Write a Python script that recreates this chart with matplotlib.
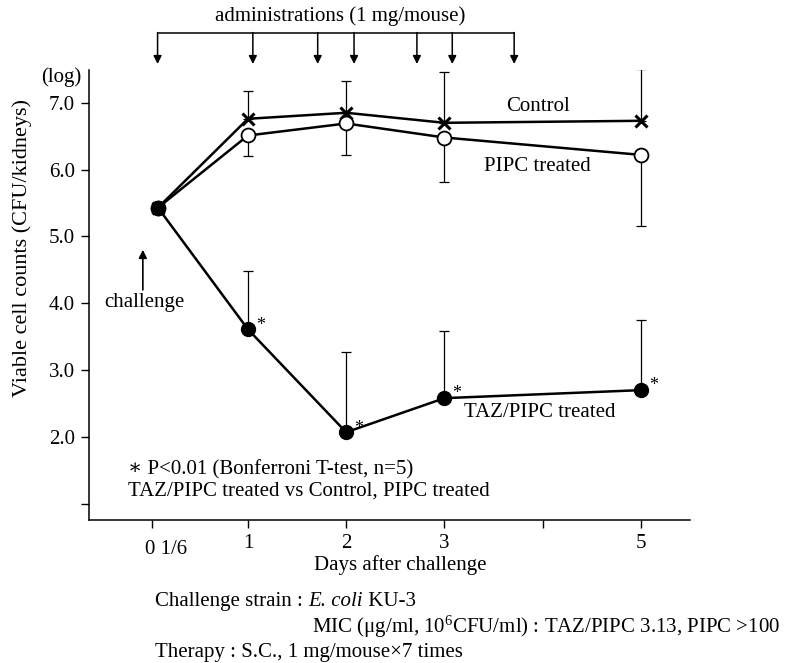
import matplotlib
matplotlib.use("Agg")
import matplotlib.pyplot as plt
import matplotlib.transforms as mtransforms

plt.rcParams['font.family'] = ['Liberation Serif', 'DejaVu Serif']
plt.rcParams['mathtext.fontset'] = 'custom'
plt.rcParams['mathtext.rm'] = 'Liberation Serif'
plt.rcParams['mathtext.it'] = 'Liberation Serif:italic'

# ---- data ----
days = [0.084, 1, 2, 3, 5]
control = [5.43, 6.76, 6.85, 6.70, 6.73]
control_upper = [5.43, 7.18, 7.33, 7.46, 7.50]
pipc = [5.43, 6.51, 6.69, 6.48, 6.22]
pipc_lower = [5.43, 6.21, 6.22, 5.81, 5.16]
taz = [5.43, 3.61, 2.07, 2.58, 2.70]
taz_upper = [5.43, 4.48, 3.27, 3.58, 3.75]
admin_days = [0.08, 1.05, 1.71, 2.08, 2.72, 3.08, 3.71]
xtick_pos = [0.02, 1, 2, 3, 4, 5]
xtick_labels = ['', '1', '2', '3', '', '5']
ytick_pos = [1, 2, 3, 4, 5, 6, 7]
ytick_labels = ['', '2.0', '3.0', '4.0', '5.0', '6.0', '7.0']

W, H = 785, 663
fig = plt.figure(figsize=(W / 100, H / 100), dpi=100)
ax = fig.add_axes([89 / W, 1 - 520 / H, (690 - 89) / W, (520 - 70) / H])

FS = 15
lw = 1.8

# error bars (one-sided)
for i in range(1, len(days)):
    ax.errorbar(days[i], control[i], yerr=[[0], [control_upper[i] - control[i]]],
                fmt='none', ecolor='black', elinewidth=0.9, capsize=3.5, capthick=0.9, zorder=1)
    ax.errorbar(days[i], pipc[i], yerr=[[pipc[i] - pipc_lower[i]], [0]],
                fmt='none', ecolor='black', elinewidth=0.9, capsize=3.5, capthick=0.9, zorder=1)
    ax.errorbar(days[i], taz[i], yerr=[[0], [taz_upper[i] - taz[i]]],
                fmt='none', ecolor='black', elinewidth=0.9, capsize=3.5, capthick=0.9, zorder=1)

ax.plot(days, control, color='black', lw=lw, marker='x', ms=8, mew=2.2, zorder=3)
ax.plot(days, pipc, color='black', lw=lw, marker='o', ms=10, mfc='white', mec='black', mew=1.3, zorder=4)
ax.plot(days, taz, color='black', lw=lw, marker='o', ms=10, mfc='black', mec='black', zorder=5)
ax.plot(days[0], taz[0], marker='o', ms=10, mfc='black', mec='black', zorder=6)

# significance asterisks
for i in range(1, len(days)):
    ax.annotate('*', (days[i], taz[i]), xytext=(9, 3), textcoords='offset points',
                fontsize=13, ha='center', va='center')

ax.set_xlim(-0.618, 5.50)
ax.set_ylim(0.757, 7.49)
ax.set_xticks(xtick_pos)
ax.set_xticklabels(xtick_labels, fontsize=FS)
ax.set_yticks(ytick_pos)
ax.set_yticklabels(ytick_labels, fontsize=FS)
ax.tick_params(direction='out', length=6, width=1, pad=4)
for s in ['top', 'right']:
    ax.spines[s].set_visible(False)
for s in ['left', 'bottom']:
    ax.spines[s].set_linewidth(1.1)

ax.text(0.17, -0.045, '0 1/6', transform=mtransforms.blended_transform_factory(ax.transData, ax.transAxes),
        ha='center', va='top', fontsize=FS)

# series labels
ax.text(3.95, 7.0 - (107 - 103) / 66.8, 'Control', ha='center', va='center', fontsize=FS)
ax.text(3.95, 7.0 - (167 - 103) / 66.8, 'PIPC treated', ha='center', va='center', fontsize=FS)
ax.text(3.97, 2.0 + (437 - 413) / 66.8, 'TAZ/PIPC treated', ha='center', va='center', fontsize=FS)

# challenge arrow
ax.annotate('', xy=(-0.07, 4.8), xytext=(-0.07, 4.2),
            arrowprops=dict(arrowstyle='-|>', color='black', lw=1.2, mutation_scale=12,
                            shrinkA=0, shrinkB=0))
ax.text(-0.05, 4.01, 'challenge', ha='center', va='center', fontsize=FS)

# footnotes inside axes
ax.text(0.065, 0.111, '∗ P<0.01 (Bonferroni T-test, n=5)', transform=ax.transAxes, ha='left', va='center', fontsize=FS)
ax.text(0.065, 0.064, 'TAZ/PIPC treated vs Control, PIPC treated', transform=ax.transAxes, ha='left', va='center', fontsize=FS)

# administration bracket with arrows
bt = mtransforms.blended_transform_factory(ax.transData, ax.transAxes)
y_bar = 1 + (70 - 33) / 450
y_tip = 1 + (70 - 64) / 450
ax.plot([admin_days[0], admin_days[-1]], [y_bar, y_bar], color='black', lw=1.1, transform=bt, clip_on=False)
for d in admin_days:
    ax.annotate('', xy=(d, y_tip), xytext=(d, y_bar + 0.001), xycoords=bt, textcoords=bt,
                arrowprops=dict(arrowstyle='-|>', color='black', lw=1.1, mutation_scale=12,
                                shrinkA=0, shrinkB=0), annotation_clip=False)

def ftext(x, y, s, **kw):
    return fig.text(x / W, 1 - y / H, s, fontsize=kw.pop('fontsize', FS), **kw)

ftext(340, 16, 'administrations (1 mg/mouse)', ha='center', va='center')
ftext(81, 77, '(log)', ha='right', va='center')
ftext(22, 248, 'Viable cell counts (CFU/kidneys)', ha='center', va='center', rotation=90, fontsize=16)
ftext(400, 565, 'Days after challenge', ha='center', va='center')

# "Challenge strain : E. coli KU-3" with italic species name
t1 = ftext(155, 606, 'Challenge strain : ', ha='left', va='baseline')
fig.canvas.draw()
r = fig.canvas.get_renderer()
bb1 = t1.get_window_extent(r)
t1x, t1y = t1.get_position()
t2 = fig.text(bb1.x1 / W, t1y, 'E. coli', fontsize=FS, style='italic', ha='left', va='baseline')
bb2 = t2.get_window_extent(r)
fig.text(bb2.x1 / W, t1y, ' KU-3', fontsize=FS, ha='left', va='baseline')

ftext(312, 627, r'MIC (μg/ml, 10$^{6}$CFU/ml) : TAZ/PIPC 3.13, PIPC >100', ha='left', va='center')
ftext(155, 653, 'Therapy : S.C., 1 mg/mouse×7 times', ha='left', va='center')

fig.savefig('out.png', dpi=100)
